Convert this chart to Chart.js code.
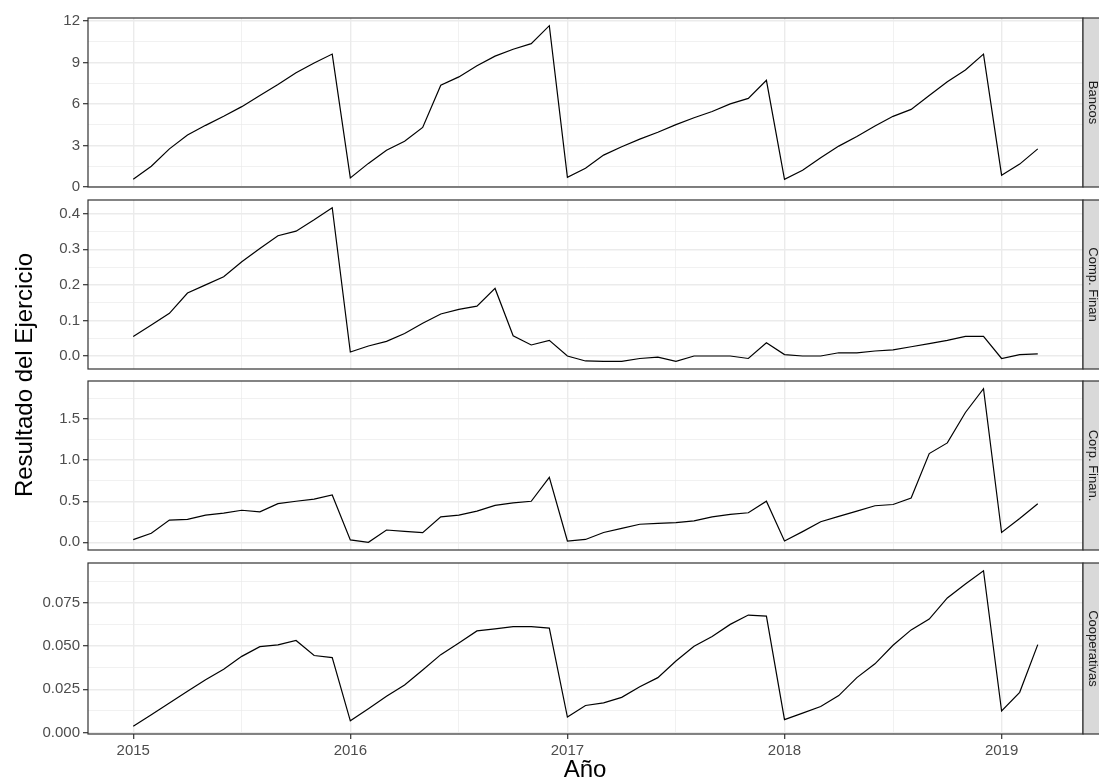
<!DOCTYPE html>
<html>
<head>
<meta charset="utf-8">
<script src="https://cdn.jsdelivr.net/npm/chart.js@4.4.1/dist/chart.umd.min.js"></script>
<style>
  body { margin: 0; background: #fff; }
  #wrap { position: relative; width: 1099px; height: 780px; overflow: hidden; background: #fff;
          font-family: "Liberation Sans", Arial, sans-serif; }
  canvas { position: absolute; left: 0; }
  .ytitle { position: absolute; left: -176px; top: 363px; width: 400px; height: 24px; line-height: 24px;
            text-align: center; font-size: 24px; color: #000; transform: rotate(-90deg); }
  .xtitle { position: absolute; left: 485px; top: 757px; width: 200px; height: 24px; line-height: 24px;
            text-align: center; font-size: 24px; color: #000; }
</style>
</head>
<body>
<div id="wrap">
  <canvas id="c1" width="1099" height="193" style="top:6px"></canvas>
  <canvas id="c2" width="1099" height="193" style="top:188px"></canvas>
  <canvas id="c3" width="1099" height="193" style="top:369px"></canvas>
  <canvas id="c4" width="1099" height="213" style="top:551px"></canvas>
  <div class="ytitle">Resultado del Ejercicio</div>
  <div class="xtitle">Año</div>
</div>
<script>
const meses = [
  '2015-01','2015-02','2015-03','2015-04','2015-05','2015-06','2015-07','2015-08','2015-09','2015-10','2015-11','2015-12',
  '2016-01','2016-02','2016-03','2016-04','2016-05','2016-06','2016-07','2016-08','2016-09','2016-10','2016-11','2016-12',
  '2017-01','2017-02','2017-03','2017-04','2017-05','2017-06','2017-07','2017-08','2017-09','2017-10','2017-11','2017-12',
  '2018-01','2018-02','2018-03','2018-04','2018-05','2018-06','2018-07','2018-08','2018-09','2018-10','2018-11','2018-12',
  '2019-01','2019-02','2019-03'
];

const bancos = [
  0.55, 1.5, 2.75, 3.75, 4.45, 5.1, 5.8, 6.6, 7.4, 8.25, 8.95, 9.6,
  0.65, 1.7, 2.65, 3.3, 4.3, 7.35, 7.95, 8.75, 9.45, 9.95, 10.35, 11.65,
  0.7, 1.35, 2.3, 2.9, 3.45, 3.95, 4.5, 5.0, 5.45, 6.0, 6.4, 7.7,
  0.55, 1.2, 2.1, 2.95, 3.65, 4.4, 5.1, 5.6, 6.6, 7.6, 8.45, 9.6,
  0.85, 1.65, 2.75
];
const compFinan = [
  0.055, 0.087, 0.12, 0.177, 0.2, 0.223, 0.265, 0.302, 0.338, 0.351, 0.383, 0.417,
  0.011, 0.028, 0.041, 0.063, 0.092, 0.118, 0.131, 0.14, 0.19, 0.057, 0.031, 0.044,
  0.0, -0.014, -0.015, -0.015, -0.007, -0.003, -0.015, 0.0, 0.0, 0.0, -0.007, 0.037,
  0.004, 0.0, 0.0, 0.009, 0.009, 0.014, 0.017, 0.026, 0.035, 0.044, 0.055, 0.055,
  -0.007, 0.004, 0.006
];
const corpFinan = [
  0.032, 0.11, 0.27, 0.28, 0.33, 0.355, 0.39, 0.37, 0.47, 0.5, 0.525, 0.576,
  0.03, 0.0, 0.15, 0.134, 0.118, 0.31, 0.33, 0.38, 0.45, 0.48, 0.5, 0.79,
  0.016, 0.035, 0.12, 0.17, 0.22, 0.23, 0.24, 0.26, 0.31, 0.34, 0.36, 0.5,
  0.016, 0.13, 0.25, 0.315, 0.38, 0.445, 0.46, 0.54, 1.08, 1.21, 1.58, 1.87,
  0.12, 0.29, 0.47
];
const cooperativas = [
  0.0036, 0.0103, 0.017, 0.0238, 0.0305, 0.0365, 0.044, 0.0496, 0.0506, 0.0532, 0.0445, 0.0433,
  0.0067, 0.0137, 0.0209, 0.0274, 0.0361, 0.045, 0.0517, 0.0587, 0.0599, 0.0612, 0.0612, 0.0603,
  0.0089, 0.0156, 0.0171, 0.0203, 0.0264, 0.0317, 0.0413, 0.0498, 0.0555, 0.0625, 0.0679, 0.0673,
  0.0074, 0.0112, 0.015, 0.0213, 0.0317, 0.0397, 0.0504, 0.0593, 0.0656, 0.0778, 0.0859, 0.0935,
  0.0124, 0.0232, 0.0508
];

const xTicks = [2015, 2016, 2017, 2018, 2019];
const bancosTicks = [0, 3, 6, 9, 12];
const compTicks = [0.0, 0.1, 0.2, 0.3, 0.4];
const corpTicks = [0.0, 0.5, 1.0, 1.5];
const coopTicks = [0.000, 0.025, 0.050, 0.075];

const toYear = m => { const [y, mo] = m.split('-').map(Number); return y + (mo - 1) / 12; };
const xs = meses.map(toYear);

// ggplot-style 5% expansion
function expand(arr) {
  const lo = Math.min(...arr), hi = Math.max(...arr), d = (hi - lo) * 0.05;
  return [lo - d, hi + d];
}
const [xMin, xMax] = expand(xs);

// majors plus midpoints (minor grid) inside limits
function withMinor(major, lo, hi) {
  const step = major[1] - major[0];
  const all = [];
  for (let i = -1; i < major.length; i++) {
    const a = i < 0 ? major[0] - step : major[i];
    if (i >= 0) all.push({ value: a, major: true });
    all.push({ value: a + step / 2, major: false });
  }
  return all.filter(t => t.value >= lo - 1e-9 && t.value <= hi + 1e-9);
}

const GRID = '#EBEBEB', DARK = '#333333', TXT = '#4D4D4D';
const FONT = '"Liberation Sans", Arial, sans-serif';

const panelFrame = {
  id: 'panelFrame',
  afterDraw(chart, args, opts) {
    const { ctx, chartArea: a } = chart;
    ctx.save();
    ctx.strokeStyle = DARK;
    ctx.lineWidth = 1.2;
    ctx.strokeRect(a.left, a.top, a.right - a.left, a.bottom - a.top);
    ctx.fillStyle = '#D9D9D9';
    ctx.fillRect(a.right, a.top, 20, a.bottom - a.top);
    ctx.strokeRect(a.right, a.top, 20, a.bottom - a.top);
    ctx.translate(a.right + 9.5, (a.top + a.bottom) / 2);
    ctx.rotate(Math.PI / 2);
    ctx.fillStyle = '#1A1A1A';
    ctx.font = '13px ' + FONT;
    ctx.textAlign = 'center';
    ctx.textBaseline = 'middle';
    ctx.fillText(opts.label, 0, 0);
    ctx.restore();
  }
};

function panel(id, label, values, ticks, decimals, bottom) {
  const [yMin, yMax] = expand(values);
  const yT = withMinor(ticks, yMin, yMax);
  const xT = withMinor(xTicks, xMin, xMax);
  const isMajorY = v => ticks.some(t => Math.abs(t - v) < 1e-9);
  const isMajorX = v => Math.abs(v - Math.round(v)) < 1e-9;
  return new Chart(document.getElementById(id), {
    type: 'line',
    data: {
      datasets: [{
        data: xs.map((x, i) => ({ x: x, y: values[i] })),
        borderColor: '#000',
        borderWidth: 1.2,
        pointRadius: 0,
        tension: 0,
        fill: false
      }]
    },
    plugins: [panelFrame],
    options: {
      responsive: false,
      animation: false,
      events: [],
      layout: { padding: { top: 10, bottom: bottom ? 0 : 10, left: 0, right: 16 } },
      plugins: {
        legend: { display: false },
        tooltip: { enabled: false },
        panelFrame: { label: label }
      },
      scales: {
        x: {
          type: 'linear',
          min: xMin,
          max: xMax,
          afterBuildTicks: s => { s.ticks = xT.map(t => ({ value: t.value })); },
          afterFit: s => { s.height = bottom ? 30 : 0; },
          border: { display: false },
          grid: {
            color: c => GRID,
            lineWidth: c => (c.tick && isMajorX(c.tick.value)) ? 1.4 : 0.7,
            drawTicks: bottom,
            tickLength: 5,
            tickColor: c => (c.tick && isMajorX(c.tick.value)) ? DARK : 'rgba(0,0,0,0)',
            tickWidth: 1.2
          },
          ticks: {
            display: bottom,
            autoSkip: false,
            maxRotation: 0,
            padding: 3,
            color: TXT,
            font: { family: FONT, size: 15 },
            callback: v => isMajorX(v) ? String(Math.round(v)) : ''
          }
        },
        y: {
          min: yMin,
          max: yMax,
          afterBuildTicks: s => { s.ticks = yT.map(t => ({ value: t.value })); },
          afterFit: s => { s.width = 88; },
          border: { display: false },
          grid: {
            color: c => GRID,
            lineWidth: c => (c.tick && isMajorY(c.tick.value)) ? 1.4 : 0.7,
            drawTicks: true,
            tickLength: 5,
            tickColor: c => (c.tick && isMajorY(c.tick.value)) ? DARK : 'rgba(0,0,0,0)',
            tickWidth: 1.2
          },
          ticks: {
            autoSkip: false,
            padding: 3,
            color: TXT,
            font: { family: FONT, size: 15 },
            callback: v => isMajorY(v) ? Number(v).toFixed(decimals) : ''
          }
        }
      }
    }
  });
}

panel('c1', 'Bancos', bancos, bancosTicks, 0, false);
panel('c2', 'Comp. Finan', compFinan, compTicks, 1, false);
panel('c3', 'Corp. Finan.', corpFinan, corpTicks, 1, false);
panel('c4', 'Cooperativas', cooperativas, coopTicks, 3, true);
</script>
</body>
</html>
